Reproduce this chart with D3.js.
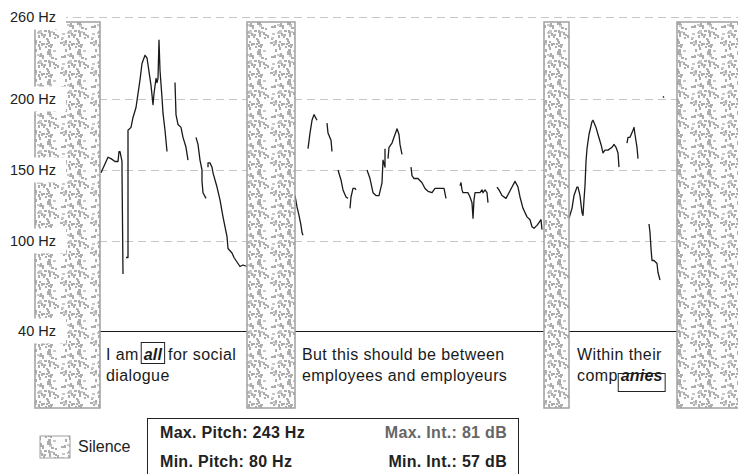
<!DOCTYPE html>
<html>
<head>
<meta charset="utf-8">
<script src="https://cdn.jsdelivr.net/npm/d3@7"></script>
<style>
  body { margin: 0; background: #fff; }
  text { font-family: "Liberation Sans", Arial, sans-serif; }
</style>
</head>
<body>
<script>
// pitch ticks (Hz)
const hzTicks = [40, 100, 150, 200, 260];

// silent stretches, [start s, end s]
const silences = [[0, 0.65], [2.12, 2.60], [5.09, 5.34], [6.42, 7.10]];

// pitch contour pieces, [time s, Hz]
const seg1 = [[0.66,148],[0.73,159],[0.76,158],[0.80,156],[0.83,156],[0.84,163],[0.85,163],[0.87,156],[0.87,150],[0.88,78]];
const seg2 = [[0.91,89],[0.93,89],[0.93,178],[0.96,180],[0.98,187],[1.01,194],[1.03,204],[1.05,214],[1.07,226],[1.10,232],[1.12,230],[1.14,220],[1.16,210],[1.18,196],[1.19,204],[1.21,215],[1.22,212],[1.23,215],[1.24,243],[1.25,221],[1.27,201],[1.28,190],[1.30,178],[1.32,163]];
const seg3 = [[1.40,212],[1.41,189],[1.43,182],[1.46,180],[1.48,173],[1.51,166],[1.53,157]];
const seg4 = [[1.61,173],[1.63,168],[1.65,157],[1.67,150],[1.67,142],[1.68,134],[1.71,130]];
const seg5 = [[1.73,152],[1.73,155],[1.75,155],[1.77,152],[1.78,148],[1.82,138],[1.85,129],[1.88,117],[1.92,103],[1.93,95],[1.97,92],[1.99,89],[2.02,86],[2.05,83],[2.08,84],[2.12,83]];
const seg6 = [[2.60,132],[2.62,124],[2.64,118],[2.66,111],[2.67,106],[2.68,104]];
const seg7 = [[2.73,165],[2.75,176],[2.77,185],[2.79,189],[2.82,185]];
const seg8 = [[2.92,183],[2.93,176],[2.96,171],[2.97,163]];
const seg9 = [[3.03,150],[3.06,143],[3.08,136],[3.11,131],[3.13,130]];
const seg10 = [[3.15,123],[3.16,131],[3.18,137],[3.20,137],[3.21,136]];
const seg11 = [[3.32,150],[3.35,144],[3.38,134],[3.41,132],[3.44,132],[3.47,141],[3.48,157],[3.50,152],[3.50,165]];
const seg12 = [[3.53,158],[3.54,166],[3.57,169],[3.59,173],[3.61,177],[3.62,179],[3.64,175],[3.65,168],[3.67,161]];
const seg13 = [[3.76,152],[3.77,146],[3.79,144],[3.83,144],[3.87,141],[3.90,137],[3.93,135],[3.97,134],[4.00,137],[4.05,137],[4.09,137],[4.11,130]];
const seg14 = [[4.25,139],[4.26,141],[4.27,136],[4.28,134],[4.30,134],[4.33,134],[4.35,131],[4.37,127],[4.38,116],[4.39,129],[4.40,134],[4.42,134],[4.45,134],[4.47,136],[4.48,134],[4.50,136],[4.52,134],[4.53,127]];
const seg15 = [[4.62,138],[4.64,136],[4.67,132],[4.71,130],[4.74,134],[4.77,138],[4.80,142],[4.83,138],[4.85,131],[4.88,123],[4.92,117],[4.95,115],[4.97,110],[4.99,109],[5.02,111],[5.04,113],[5.06,115],[5.07,108]];
const seg16 = [[5.34,116],[5.37,123],[5.39,132],[5.42,138],[5.43,138],[5.45,132],[5.47,120],[5.48,118],[5.49,129],[5.50,139],[5.51,156],[5.52,165],[5.54,175],[5.57,184],[5.58,185],[5.61,180],[5.63,175],[5.66,168],[5.68,162],[5.70,164],[5.73,164],[5.77,166],[5.79,168],[5.81,166],[5.83,162],[5.84,152]];
const seg17 = [[5.92,169],[5.93,173],[5.95,173],[5.98,178],[5.99,180],[6.00,175],[6.02,166],[6.03,158]];
const seg18 = [[6.14,112],[6.15,106],[6.16,95],[6.17,87],[6.19,87],[6.22,85],[6.23,79],[6.25,74]];
const seg19 = [[6.28,202],[6.29,201]];
const contour = [seg1, seg2, seg3, seg4, seg5, seg6, seg7, seg8, seg9, seg10, seg11, seg12, seg13, seg14, seg15, seg16, seg17, seg18, seg19];

// transcript under each phrase
const phrases = [
  { t: 0.72, lines: [[["I am", ""], ["all", "box"], ["for social", ""]], [["dialogue", ""]]] },
  { t: 2.68, lines: [[["But this should be between", ""]], [["employees and employeurs", ""]]] },
  { t: 5.43, lines: [[["Within their", ""]], [["comp", ""], ["anies", "box"]]] }
];

const statsLeft = ["Max. Pitch: 243 Hz", "Min. Pitch: 80 Hz"];
const statsRight = ["Max. Int.: 81 dB", "Min. Int.: 57 dB"];

const width = 738, height = 474;
const blockTop = 22, blockBottom = 408;

const svg = d3.select("body").append("svg")
  .attr("width", width)
  .attr("height", height);

const x = d3.scaleLinear().domain([0, 7.03]).range([35, 738]);
const y = d3.scaleLinear().domain(hzTicks).range([331, 241, 170, 99, 17]);

// speckled texture for silence (fixed-seed scatter, just a texture)
const defs = svg.append("defs");
const pat = defs.append("pattern")
  .attr("id", "speck")
  .attr("patternUnits", "userSpaceOnUse")
  .attr("width", 30).attr("height", 30);
pat.append("rect").attr("width", 30).attr("height", 30).attr("fill", "#fdfdfd");
let seed = 11;
function jit() { seed = (seed * 1103515245 + 12345) % 2147483648; return seed / 2147483648; }
for (let i = 0; i < 62; i++) {
  let a = jit(), b = jit(), c = jit();
  pat.append("rect")
    .attr("x", Math.floor(a * 29))
    .attr("y", Math.floor(b * 29))
    .attr("width", c < 0.4 ? 3 : 2)
    .attr("height", c > 0.7 ? 3 : 2)
    .attr("fill", c < 0.25 ? "#c8c8c8" : "#adadad");
}

// dashed grid
svg.append("g")
  .selectAll("line")
  .data(hzTicks.slice(1))
  .enter().append("line")
  .attr("x1", 60).attr("x2", width)
  .attr("y1", d => y(d) + 0.5).attr("y2", d => y(d) + 0.5)
  .attr("stroke", "#c6c6c6")
  .attr("stroke-dasharray", "8,5");

// floor line
svg.append("line")
  .attr("x1", x(0.65)).attr("x2", width)
  .attr("y1", y(40) + 0.5).attr("y2", y(40) + 0.5)
  .attr("stroke", "#1a1a1a");

// pitch contour
let line = d3.line().x(d => x(d[0])).y(d => y(d[1]));
svg.append("g")
  .selectAll("path")
  .data(contour)
  .enter().append("path")
  .attr("d", line)
  .attr("fill", "none")
  .attr("stroke", "#1a1a1a")
  .attr("stroke-width", 1.3)
  .attr("stroke-linejoin", "round");

// silence blocks
svg.append("g")
  .selectAll("rect")
  .data(silences)
  .enter().append("rect")
  .attr("x", d => x(d[0]))
  .attr("y", blockTop)
  .attr("width", d => x(d[1]) - x(d[0]))
  .attr("height", blockBottom - blockTop)
  .attr("fill", "url(#speck)")
  .attr("stroke", "#a0a0a0")
  .attr("stroke-width", 1.5);

// axis labels on white
let lab = svg.append("g")
  .selectAll("g")
  .data(hzTicks)
  .enter().append("g")
  .attr("transform", d => "translate(0," + y(d) + ")");
lab.append("rect")
  .attr("x", 0).attr("y", -12.5)
  .attr("width", 66).attr("height", 25)
  .attr("fill", "#fff");
lab.append("text")
  .attr("x", 56)
  .attr("dy", "0.35em")
  .attr("text-anchor", "end")
  .attr("font-size", 14.5)
  .attr("fill", "#222")
  .text(d => d + " Hz");

// transcript
phrases.forEach(function(p) {
  p.lines.forEach(function(parts, li) {
    let cx = x(p.t) - 1;
    let by = 360 + li * 21;
    parts.forEach(function(part, pi) {
      let boxed = part[1] == "box";
      if (pi > 0 && !boxed && parts[pi - 1][1] == "box") cx += 4;
      else if (pi > 0 && boxed && part[0] == "all") cx += 2;
      let t = svg.append("text")
        .attr("x", boxed ? cx + 3 : cx)
        .attr("y", by)
        .attr("font-size", 16)
        .attr("letter-spacing", boxed ? 0.2 : 0.4)
        .attr("fill", "#1a1a1a")
        .text(part[0]);
      if (boxed) t.attr("font-weight", "bold").attr("font-style", "italic");
      let w = t.node().getComputedTextLength();
      if (boxed) {
        let tall = part[0] == "all";
        svg.append("rect")
          .attr("x", cx + 0.5)
          .attr("y", (tall ? by - 18 : by - 8) + 0.5)
          .attr("width", w + 5)
          .attr("height", tall ? 21 : 18)
          .attr("fill", "none")
          .attr("stroke", "#222");
        cx += w + 5;
      } else {
        cx += w;
      }
    });
  });
});

// legend
svg.append("rect")
  .attr("x", 40).attr("y", 436)
  .attr("width", 30).attr("height", 22)
  .attr("fill", "url(#speck)")
  .attr("stroke", "#a0a0a0");
svg.append("text")
  .attr("x", 78).attr("y", 452)
  .attr("font-size", 16)
  .attr("fill", "#222")
  .text("Silence");

svg.append("rect")
  .attr("x", 147.5).attr("y", 418.5)
  .attr("width", 371).attr("height", 70)
  .attr("fill", "none")
  .attr("stroke", "#222");

svg.selectAll(".statL")
  .data(statsLeft)
  .enter().append("text")
  .attr("class", "statL")
  .attr("x", 160)
  .attr("y", (d, i) => 438 + i * 29)
  .attr("font-size", 16)
  .attr("letter-spacing", 0.3)
  .attr("font-weight", "bold")
  .attr("fill", "#222")
  .text(d => d);

svg.selectAll(".statR")
  .data(statsRight)
  .enter().append("text")
  .attr("class", "statR")
  .attr("x", 507)
  .attr("y", (d, i) => 438 + i * 29)
  .attr("text-anchor", "end")
  .attr("font-size", 16)
  .attr("letter-spacing", 0.3)
  .attr("font-weight", "bold")
  .attr("fill", (d, i) => i == 0 ? "#666" : "#222")
  .text(d => d);
</script>
</body>
</html>
